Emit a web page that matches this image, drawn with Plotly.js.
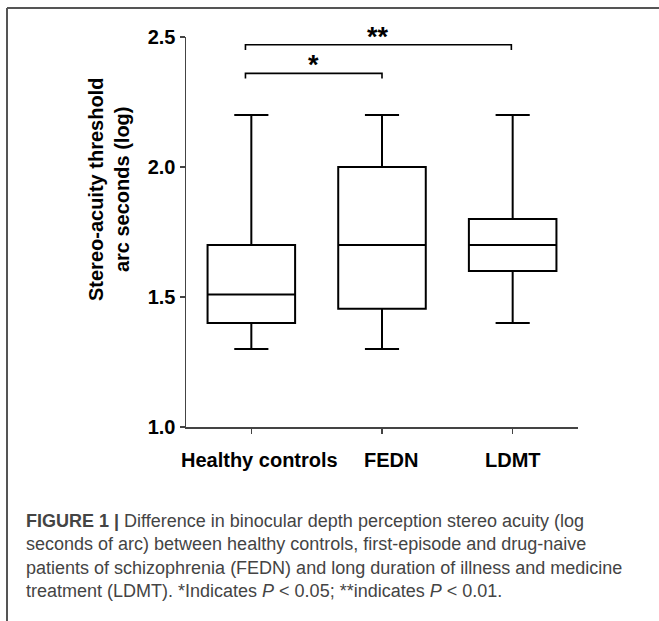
<!DOCTYPE html>
<html>
<head>
<meta charset="utf-8">
<script src="https://cdn.plot.ly/plotly-3.0.1.min.js"></script>
<style>
html,body{margin:0;padding:0;background:#fff;}
#chart{width:659px;height:621px;}
</style>
</head>
<body>
<div id="chart"></div>
<script>
// ---- data ----
const categories = ["Healthy controls", "FEDN", "LDMT"];
const lowerWhisker = [1.3, 1.3, 1.4];
const q1Values = [1.4, 1.455, 1.6];
const medianValues = [1.51, 1.7, 1.7];
const q3Values = [1.7, 2.0, 1.8];
const upperWhisker = [2.2, 2.2, 2.2];
const yTicks = [1.0, 1.5, 2.0, 2.5];
const compFrom = ["Healthy controls", "Healthy controls"];
const compTo = ["FEDN", "LDMT"];
const compLevel = [2.36, 2.47];
const compLabel = ["*", "**"];
const yTitle = "Stereo-acuity threshold<br>arc seconds (log)";
const caption = "<b>FIGURE 1 |</b> Difference in binocular depth perception stereo acuity (log<br>" +
  "seconds of arc) between healthy controls, first-episode and drug-naive<br>" +
  "patients of schizophrenia (FEDN) and long duration of illness and medicine<br>" +
  "treatment (LDMT). *Indicates <i>P</i> &lt; 0.05; **indicates <i>P</i> &lt; 0.01.";

// ---- layout geometry ----
const W = 659, H = 621;
const M = {l: 186, r: 81, t: 37, b: 194};
const pw = W - M.l - M.r, ph = H - M.t - M.b;
const px2x = p => (p - M.l) / pw;
const py2y = p => (H - M.b - p) / ph;

const FONT = "Liberation Sans, Arial, sans-serif";

const trace = {
  type: "box",
  x: categories,
  q1: q1Values,
  median: medianValues,
  q3: q3Values,
  lowerfence: lowerWhisker,
  upperfence: upperWhisker,
  width: 0.67,
  whiskerwidth: 0.39,
  fillcolor: "rgba(255,255,255,0)",
  line: {color: "#000", width: 2},
  hoverinfo: "skip",
  showlegend: false
};

const shapes = [];
const annotations = [];
const tickH = 0.02;
for (let i = 0; i < compLabel.length; i++) {
  const a = categories.indexOf(compFrom[i]) - 0.045;
  const b = categories.indexOf(compTo[i]) - 0.01 * i;
  const y = compLevel[i];
  shapes.push({
    type: "path", xref: "x", yref: "y",
    path: `M ${a} ${y - tickH} L ${a} ${y} L ${b} ${y} L ${b} ${y - tickH}`,
    line: {color: "#000", width: 1.6}
  });
  annotations.push({
    xref: "x", yref: "y", x: (a + b) / 2, y: y,
    text: compLabel[i], showarrow: false,
    xanchor: "center", yanchor: "bottom", yshift: -9,
    font: {family: FONT, size: 27, color: "#000", weight: "bold"}
  });
}

// y axis title
annotations.push({
  xref: "paper", yref: "paper", x: px2x(109), y: py2y(190),
  text: "<b>" + yTitle + "</b>", textangle: -90, showarrow: false,
  xanchor: "center", yanchor: "middle",
  font: {family: FONT, size: 20, color: "#000"}
});

// x tick labels (placed as in the original figure)
const xLabelShift = [8, 9, 0];
for (let i = 0; i < categories.length; i++) {
  annotations.push({
    xref: "x", yref: "paper", x: i, y: py2y(460),
    text: "<b>" + categories[i] + "</b>", showarrow: false,
    xanchor: "center", yanchor: "middle", xshift: xLabelShift[i],
    font: {family: FONT, size: 20, color: "#000"}
  });
}

// caption
annotations.push({
  xref: "paper", yref: "paper", x: px2x(24), y: py2y(509),
  text: caption, showarrow: false, align: "left",
  xanchor: "left", yanchor: "top",
  font: {family: FONT, size: 18, color: "#444"}
});

// figure frame (top and left edges)
shapes.push({type: "line", xref: "paper", yref: "paper",
  x0: px2x(7), x1: px2x(W + 5), y0: py2y(8), y1: py2y(8),
  line: {color: "#555", width: 2}});
shapes.push({type: "line", xref: "paper", yref: "paper",
  x0: px2x(7), x1: px2x(7), y0: py2y(8), y1: py2y(H + 5),
  line: {color: "#555", width: 2}});

const layout = {
  width: W, height: H,
  margin: M,
  paper_bgcolor: "#fff", plot_bgcolor: "#fff",
  showlegend: false,
  xaxis: {
    type: "category",
    categoryarray: categories, categoryorder: "array",
    range: [-0.5, 2.5],
    showline: true, linecolor: "#444", linewidth: 1.5,
    ticks: "outside", ticklen: 5, tickwidth: 1.5, tickcolor: "#444",
    showgrid: false, zeroline: false,
    showticklabels: false
  },
  yaxis: {
    range: [1.0, 2.5],
    tickvals: yTicks, tickformat: ".1f",
    showline: true, linecolor: "#444", linewidth: 1.5,
    ticks: "outside", ticklen: 5, tickwidth: 1.5, tickcolor: "#444",
    showgrid: false, zeroline: false,
    tickfont: {family: FONT, size: 20, color: "#000", weight: "bold"}
  },
  shapes: shapes,
  annotations: annotations
};

Plotly.newPlot("chart", [trace], layout, {staticPlot: true, displayModeBar: false});
</script>
</body>
</html>
